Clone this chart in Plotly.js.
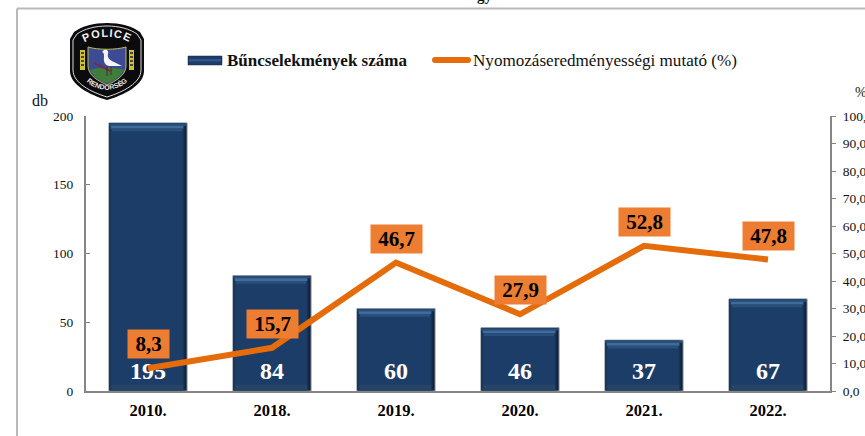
<!DOCTYPE html>
<html>
<head>
<meta charset="utf-8">
<script src="https://cdn.plot.ly/plotly-3.0.1.min.js"></script>
<style>html,body{margin:0;padding:0;background:#fff;overflow:hidden}#chart{width:865px;height:436px}</style>
</head>
<body>
<div id="chart"></div>
<script>
const categories = ["2010.", "2018.", "2019.", "2020.", "2021.", "2022."];
const crimeCounts = [195, 84, 60, 46, 37, 67];
const clearanceRate = [8.3, 15.7, 46.7, 27.9, 52.8, 47.8];
const clearanceLabels = ["8,3", "15,7", "46,7", "27,9", "52,8", "47,8"];
const leftTicks = [0, 50, 100, 150, 200];
const rightTicks = [0, 10, 20, 30, 40, 50, 60, 70, 80, 90, 100];
const rightTickLabels = ["0,0", "10,0", "20,0", "30,0", "40,0", "50,0", "60,0", "70,0", "80,0", "90,0", "100,0"];
const seriesNames = ["Bűncselekmények száma", "Nyomozáseredményességi mutató (%)"];

const W = 865, H = 436, L = 86, R = 830, T = 116, B = 391;
const px = x => (x - L) / (R - L);
const py = y => (B - y) / (B - T);
const serif = "Liberation Serif, Times New Roman, serif";

const logoSvg = `<svg xmlns="http://www.w3.org/2000/svg" viewBox="0 0 74 77" width="296" height="308">
<path d="M37 0C50 0 62 3 70 9L74 16V48C74 62 54 72 37 77C20 72 0 62 0 48V16L4 9C12 3 24 0 37 0Z" fill="#0b0b0d"/>
<path d="M37 3C49 3 60 6 67 11L71 17V47C71 60 53 69 37 74C21 69 3 60 3 47V17L7 11C14 6 25 3 37 3Z" fill="none" stroke="#d8d8d8" stroke-width="1"/>
<path id="t" d="M9 25C18 10 56 10 65 25" fill="none"/>
<path id="b" d="M11 50C20 72 54 72 63 50" fill="none"/>
<text font-family="Liberation Sans,Arial" font-weight="bold" font-size="11" fill="#f2f2f2" letter-spacing="1"><textPath href="#t" startOffset="50%" text-anchor="middle">POLICE</textPath></text>
<text font-family="Liberation Sans,Arial" font-weight="bold" font-size="7" fill="#e8e8e8"><textPath href="#b" startOffset="50%" text-anchor="middle">RENDŐRSÉG</textPath></text>
<rect x="10" y="27" width="5" height="20" fill="#c9c23a"/><rect x="59" y="27" width="5" height="20" fill="#c9c23a"/>
<path d="M11 30h3M11 34h3M11 38h3M11 42h3M60 30h3M60 34h3M60 38h3M60 42h3" stroke="#222" stroke-width="1.6"/>
<path d="M18 24C28 27 46 27 56 24V43C56 52 46 58 37 62C28 58 18 52 18 43Z" fill="#3d4b94" stroke="#bdbb4a" stroke-width="1"/>
<path d="M20 47C28 44 46 44 54 47C50 54 44 58 37 60C30 58 24 54 20 47Z" fill="#3f7d3a"/>
<path d="M24 40L40 48" stroke="#7b2a3a" stroke-width="1.6"/>
<path d="M34 27C37 26 39 28 38 31C37 34 39 37 44 39L52 43L43 43C36 44 33 40 34 34C34 31 34 30 32 29Z" fill="#f5f5f5"/>
<path d="M37 43V53M41 43V52" stroke="#5a2030" stroke-width="1"/>
</svg>`;

const hidden = {hoverinfo: "skip", showlegend: false};
const layer = (color, offset, width, base, y) => Object.assign({
  type: "bar", x: categories, y: y, base: base, offset: offset, width: width,
  marker: {color: color, line: {width: 0}}, yaxis: "y"
}, hidden);
const n = crimeCounts.length;
const fill = v => Array(n).fill(v);
const textLift = 3;

const traces = [
  Object.assign(layer("#0e2036", -0.315, 0.63, fill(0), crimeCounts), {marker: {color: "#0e2036", line: {color: "#8a96a3", width: 1}}}),
  layer("#142b49", -0.312, 0.612, fill(0.5), crimeCounts.map(v => v - 1)),
  layer("#1a3659", -0.312, 0.6, fill(0.5), crimeCounts.map(v => v - 1)),
  layer("#1d3d69", -0.3, 0.58, fill(0.5), crimeCounts.map(v => v - 1)),
  layer("#2a4e7c", -0.312, 0.618, crimeCounts.map(v => v - 2), fill(1.5)),
  layer("#3f6c99", -0.3, 0.585, crimeCounts.map(v => v - 4), fill(2)),
  layer("#2a4f7d", -0.29, 0.565, crimeCounts.map(v => v - 6), fill(2)),
  layer("#264468", -0.295, 0.58, fill(1), fill(3.5)),
  {
    type: "bar", x: categories, y: crimeCounts.map(v => v - textLift), base: fill(textLift),
    name: seriesNames[0], yaxis: "y",
    offset: -0.315, width: 0.63,
    marker: {color: "rgba(0,0,0,0)", line: {width: 0}},
    text: crimeCounts.map(String), textposition: "inside", insidetextanchor: "start",
    textangle: 0, constraintext: "none",
    textfont: {family: serif, size: 24, color: "#ffffff", weight: "bold"},
    hoverinfo: "skip", showlegend: false
  },
  {
    type: "scatter", mode: "lines", x: categories, y: clearanceRate, yaxis: "y2",
    name: seriesNames[1], line: {color: "#e46c0a", width: 6, shape: "linear"},
    hoverinfo: "y", showlegend: false
  }
];

const labelAnnotations = categories.map((c, i) => ({
  x: i, y: clearanceRate[i], xref: "x", yref: "y2", yshift: 24,
  text: "<b>" + clearanceLabels[i] + "</b>", showarrow: false,
  bgcolor: "#ed7d31", width: clearanceLabels[i].length === 3 ? 37 : 47, height: 24, borderpad: 2,
  font: {family: serif, size: 21, color: "#000000"}
}));

const textAt = (x, y, text, size, anchor, extra) => Object.assign({
  xref: "paper", yref: "paper", x: px(x), y: py(y), text: text, showarrow: false,
  xanchor: anchor, yanchor: "middle", font: {family: serif, size: size, color: "#111111"}
}, extra || {});

const layout = {
  width: W, height: H, autosize: false,
  margin: {l: L, r: W - R, t: T, b: H - B, pad: 0},
  paper_bgcolor: "#ffffff", plot_bgcolor: "#ffffff",
  barmode: "overlay", showlegend: false,
  font: {family: serif, color: "#111111"},
  xaxis: {
    type: "category", categoryorder: "array", categoryarray: categories,
    range: [-0.5, 5.5], autorange: false,
    showgrid: false, zeroline: false, showline: true, linecolor: "#868686", linewidth: 2,
    ticks: "", ticklabelstandoff: 3,
    tickfont: {family: serif, size: 16.5, color: "#000", weight: "bold"}
  },
  yaxis: {
    range: [0, 200], autorange: false, tickvals: leftTicks, ticktext: leftTicks.map(String),
    showgrid: false, zeroline: false, showline: true, linecolor: "#868686", linewidth: 2,
    ticks: "inside", ticklen: 4, tickcolor: "#868686", ticklabelstandoff: 8,
    tickfont: {family: serif, size: 13.5, color: "#111"}
  },
  yaxis2: {
    overlaying: "y", side: "right", range: [0, 100], autorange: false,
    tickvals: rightTicks, ticktext: rightTickLabels,
    showgrid: false, zeroline: false, showline: true, linecolor: "#868686", linewidth: 2,
    ticks: "outside", ticklen: 4, tickcolor: "#868686", ticklabelstandoff: 4,
    tickfont: {family: serif, size: 13.5, color: "#111"}
  },
  shapes: [
    {type: "line", xref: "paper", yref: "paper", x0: px(17), x1: px(W + 2), y0: py(8.5), y1: py(8.5), line: {color: "#b9b9b9", width: 2}},
    {type: "line", xref: "paper", yref: "paper", x0: px(17), x1: px(17), y0: py(8.5), y1: py(H + 2), line: {color: "#b9b9b9", width: 2}},
    {type: "rect", xref: "paper", yref: "paper", x0: px(188), x1: px(222), y0: py(56), y1: py(65), fillcolor: "#1d3d69", line: {color: "#14294a", width: 0.5}},
    {type: "rect", xref: "paper", yref: "paper", x0: px(189), x1: px(221), y0: py(59), y1: py(61.5), fillcolor: "#2f5583", line: {width: 0}},
    {type: "line", xref: "paper", yref: "paper", x0: px(435), x1: px(468), y0: py(60), y1: py(60), line: {color: "#e46c0a", width: 6}},
    {type: "circle", xref: "paper", yref: "paper", x0: px(432), x1: px(438), y0: py(57), y1: py(63), fillcolor: "#e46c0a", line: {width: 0}},
    {type: "circle", xref: "paper", yref: "paper", x0: px(465), x1: px(471), y0: py(57), y1: py(63), fillcolor: "#e46c0a", line: {width: 0}}
  ],
  images: [{
    source: "data:image/svg+xml;charset=utf-8," + encodeURIComponent(logoSvg),
    xref: "paper", yref: "paper", x: px(70), y: py(23), sizex: px(144) - px(70), sizey: py(23) - py(100),
    xanchor: "left", yanchor: "top", sizing: "stretch", layer: "above"
  }],
  annotations: labelAnnotations.concat([
    textAt(225, 60, "<b>" + seriesNames[0] + "</b>", 17, "left"),
    textAt(471, 60, seriesNames[1], 17.1, "left"),
    textAt(30, 100, "db", 16, "left"),
    textAt(853, 92, "%", 14, "left"),
    textAt(485, -4, "<b>gy</b>", 15, "center")
  ])
};

Plotly.newPlot("chart", traces, layout, {displayModeBar: false, staticPlot: true});
</script>
</body>
</html>
